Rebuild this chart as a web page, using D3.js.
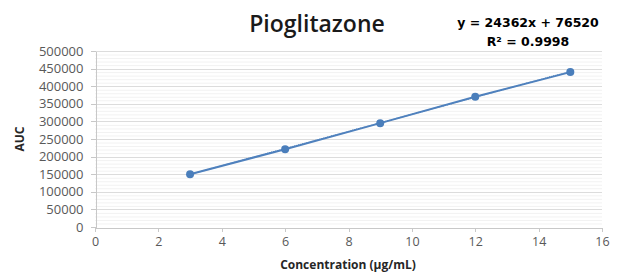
<!DOCTYPE html>
<html>
<head>
<meta charset="utf-8">
<script src="https://cdn.jsdelivr.net/npm/d3@7"></script>
<style>
  body { margin: 0; background: #fff; }
  svg { display: block; font-family: "Open Sans", "Liberation Sans", sans-serif; }
</style>
</head>
<body>
<svg id="chart" width="624" height="273"></svg>
<script>
// data
var concentration = [3, 6, 9, 12, 15];
var auc = [150000, 221000, 295000, 370000, 440000];
var xTicks = [0, 2, 4, 6, 8, 10, 12, 14, 16];
var yTicks = [0, 50000, 100000, 150000, 200000, 250000, 300000, 350000, 400000, 450000, 500000];
var trendSlope = 24362, trendIntercept = 76520;

var svg = d3.select("#chart");
var l_left = 95, l_right = 602, l_top = 51, l_bottom = 227;

var x = d3.scaleLinear().domain([0, 16]).range([l_left, l_right]);
var y = d3.scaleLinear().domain([0, 500000]).range([l_bottom, l_top]);

// minor grid
svg.append("g").selectAll("line")
    .data(d3.range(0, 500001, 10000).filter(function(d) { return d % 50000 !== 0; }))
  .enter().append("line")
    .attr("x1", l_left).attr("x2", l_right)
    .attr("y1", function(d) { return y(d) + 0.5; })
    .attr("y2", function(d) { return y(d) + 0.5; })
    .style("stroke", "#f2f2f2");

// major grid
svg.append("g").selectAll("line")
    .data(yTicks.slice(1))
  .enter().append("line")
    .attr("x1", l_left).attr("x2", l_right)
    .attr("y1", function(d) { return Math.round(y(d)) + 0.5; })
    .attr("y2", function(d) { return Math.round(y(d)) + 0.5; })
    .style("stroke", "#dcdcdc");

// y axis
svg.append("g")
    .attr("class", "yaxis")
    .attr("transform", "translate(" + (l_left + 0.5) + ",0)")
    .call(d3.axisLeft(y).tickValues(yTicks).tickSize(5).tickSizeOuter(0).tickFormat(d3.format("d")).tickPadding(7));

// x axis
svg.append("g")
    .attr("class", "xaxis")
    .attr("transform", "translate(0," + (l_bottom + 0.5) + ")")
    .call(d3.axisBottom(x).tickValues(xTicks).tickSize(4).tickSizeOuter(0).tickPadding(6));

svg.selectAll(".domain, .tick line").style("stroke", "#c8c8c8").style("shape-rendering", "crispEdges");
svg.selectAll(".tick text").style("font-size", "12.5px").style("fill", "#595959")
    .style("font-family", "'Open Sans', sans-serif");
svg.selectAll(".yaxis .tick text").style("font-size", "13px");

// trendline
svg.append("line")
    .attr("x1", x(concentration[0]))
    .attr("y1", y(trendSlope * concentration[0] + trendIntercept))
    .attr("x2", x(concentration[concentration.length - 1]))
    .attr("y2", y(trendSlope * concentration[concentration.length - 1] + trendIntercept))
    .style("stroke", "#4a7ebb")
    .style("stroke-width", 1.2)
    .style("stroke-dasharray", "1,1");

// series line + markers
var pts = concentration.map(function(c, i) { return [c, auc[i]]; });
svg.append("path")
    .datum(pts)
    .attr("d", d3.line().x(function(d) { return x(d[0]); }).y(function(d) { return y(d[1]); }))
    .style("fill", "none")
    .style("stroke", "#4f81bd")
    .style("stroke-width", 2);

svg.append("g").selectAll("circle")
    .data(pts)
  .enter().append("circle")
    .attr("cx", function(d) { return x(d[0]); })
    .attr("cy", function(d) { return y(d[1]); })
    .attr("r", 4)
    .style("fill", "#4a7ebb");

// titles
svg.append("text")
    .attr("x", 317).attr("y", 32)
    .attr("text-anchor", "middle")
    .style("font-size", "23px").style("font-weight", "600").style("fill", "#1a1a1a")
    .text("Pioglitazone");

svg.append("text")
    .attr("x", 528).attr("y", 27)
    .attr("text-anchor", "middle")
    .style("font-family", "'DejaVu Sans', sans-serif")
    .style("font-size", "12.5px").style("font-weight", "bold").style("fill", "#000")
    .text("y = 24362x + 76520");

svg.append("text")
    .attr("x", 528).attr("y", 46)
    .attr("text-anchor", "middle")
    .style("font-family", "'DejaVu Sans', sans-serif")
    .style("font-size", "12.5px").style("font-weight", "bold").style("fill", "#000")
    .text("R² = 0.9998");

svg.append("text")
    .attr("transform", "translate(24,139) rotate(-90)")
    .attr("text-anchor", "middle")
    .style("font-size", "12px").style("font-weight", "bold").style("fill", "#262626")
    .text("AUC");

svg.append("text")
    .attr("x", 348).attr("y", 269)
    .attr("text-anchor", "middle")
    .style("font-size", "12px").style("font-weight", "bold").style("fill", "#262626")
    .text("Concentration (µg/mL)");
</script>
</body>
</html>
